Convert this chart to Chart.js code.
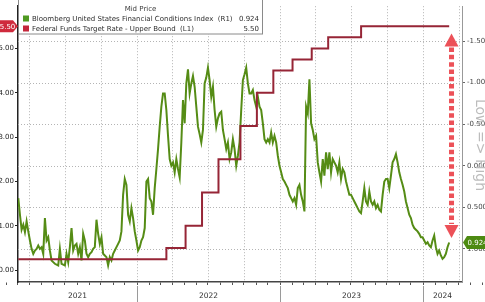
<!DOCTYPE html>
<html>
  <head>
    <script src="https://cdn.jsdelivr.net/npm/chart.js@4.4.0/dist/chart.umd.min.js"></script>
    <style type="text/css">
      html, body { margin: 0; padding: 0; background: #ffffff; }
      .wrap { position: relative; width: 485px; height: 302px; }
    </style>
  </head>

  <body>
    <div class="wrap">
      <canvas id="canvas"></canvas>
    </div>

    <script type="text/javascript">
      // Bloomberg US Financial Conditions Index, roughly every 4 days, Mar 2021 -> Mar 2024
      var fciName = "Bloomberg United States Financial Conditions Index";
      var fciStart = "2021-03-04";
      var fciEnd = "2024-03-08";
      var fciValues = [
        0.39, 0.59, 0.77, 0.71, 0.80, 0.67, 0.79, 0.90, 1.00, 1.06, 1.02, 1.00, 0.96, 1.00, 0.98, 1.06,
        0.63, 0.90, 0.86, 1.02, 1.14, 1.16, 1.18, 1.19, 1.20, 1.00, 1.18, 1.19, 1.20, 1.06, 1.16, 0.98,
        0.75, 1.02, 0.96, 0.94, 1.06, 0.98, 1.14, 0.82, 0.90, 1.06, 1.10, 1.06, 1.04, 1.00, 0.98, 0.65,
        0.82, 0.94, 0.86, 1.06, 1.08, 1.10, 1.20, 1.10, 1.14, 1.06, 1.02, 0.98, 0.94, 0.90, 0.79, 0.35,
        0.16, 0.23, 0.59, 0.67, 0.51, 0.63, 0.79, 0.90, 1.02, 0.98, 0.90, 0.86, 0.75, 0.19, 0.16, 0.39,
        0.43, 0.59, 0.27, 0.04, -0.20, -0.47, -0.71, -0.87, -0.87, -0.67, -0.36, -0.08, 0.00, -0.04, 0.08, -0.08,
        0.04, 0.14, -0.28, -0.79, -0.51, -0.99, -1.16, -0.87, -0.99, -1.08, -0.95, -0.71, -0.47, -0.38, -0.28, -0.43,
        -0.99, -1.06, -1.18, -1.03, -0.83, -0.95, -0.67, -0.47, -0.57, -0.63, -0.65, -0.43, -0.32, -0.20, -0.28, -0.08,
        -0.16, -0.32, -0.20, 0.00, -0.12, -0.28, -0.67, -1.03, -1.10, -1.18, -0.99, -0.87,
        -0.87, -0.91, -0.79, -0.71, -0.83, -0.71, -0.67, -0.51, -0.32, -0.28, -0.32, -0.28, -0.40, -0.28, -0.36, -0.28,
        -0.12, 0.00, 0.08, 0.16, 0.19, 0.23, 0.27, 0.35, 0.39, 0.43, 0.39, 0.47, 0.27, 0.23, 0.35, 0.43, 0.55,
        -0.71, -0.63, -1.04, -0.51, -0.43, -0.32, -0.36, -0.04, 0.08, 0.19, -0.08, 0.12, -0.16, 0.04, -0.16, 0.08,
        -0.08, -0.04, 0.00, 0.08, -0.04, 0.16, 0.04, 0.08, 0.19, 0.27, 0.35, 0.35, 0.39, 0.43, 0.47, 0.51,
        0.55, 0.57, 0.43, 0.27, 0.43, 0.47, 0.31, 0.43, 0.47, 0.43, 0.51, 0.47, 0.53, 0.55, 0.35, 0.19,
        0.16, 0.16, 0.27, 0.12, -0.04, -0.08, -0.14, -0.04, 0.08, 0.16, 0.23, 0.31, 0.43, 0.51, 0.59, 0.63,
        0.71, 0.75, 0.77, 0.79, 0.82, 0.86, 0.86, 0.90, 0.94, 0.92, 0.96, 0.98, 0.90, 0.84, 0.98, 1.06,
        1.02, 1.08, 1.12, 1.10, 1.06, 0.98, 0.924
      ];

      // Fed funds target rate, upper bound: change dates and new levels
      var fedName = "Federal Funds Target Rate - Upper Bound";
      var fedDates = ["2021-03-04", "2022-03-17", "2022-05-05", "2022-06-16", "2022-07-28", "2022-09-22",
                      "2022-11-03", "2022-12-15", "2023-02-02", "2023-03-23", "2023-05-04", "2023-07-27", "2024-03-08"];
      var fedRates = [0.25, 0.50, 1.00, 1.75, 2.50, 3.25, 4.00, 4.50, 4.75, 5.00, 5.25, 5.50, 5.50];

      var leftTicks = [0, 1, 2, 3, 4, 5];
      var rightTicks = [-1.5, -1.0, -0.5, 0, 0.5, 1.0];
      var years = [2021, 2022, 2023, 2024];

      // arrow annotation on the right axis
      var arrowDate = "2024-03-14";
      var arrowTop = -1.59;
      var arrowBottom = 0.87;

      var decYear = function(s) {
        var d = new Date(s + "T00:00:00Z");
        var y = d.getUTCFullYear();
        var a = Date.UTC(y, 0, 1), b = Date.UTC(y + 1, 0, 1);
        return y + (d.getTime() - a) / (b - a);
      };

      var t0 = decYear(fciStart), t1 = decYear(fciEnd);
      var fciPoints = fciValues.map(function(v, i) {
        return { x: t0 + (t1 - t0) * i / (fciValues.length - 1), y: v };
      });
      var fedPoints = fedDates.map(function(d, i) { return { x: decYear(d), y: fedRates[i] }; });

      var monthTicks = [], quarterLines = [];
      years.forEach(function(y) {
        for (var m = 1; m <= 12; m++) {
          var v = decYear(y + "-" + (m < 10 ? "0" : "") + m + "-01");
          monthTicks.push({ value: v });
          if (m % 3 === 1) quarterLines.push(v);
        }
      });

      var FONT = "'DejaVu Sans', Verdana, sans-serif";
      var GREEN = "#558c15", RED = "#962536";

      var decor = {
        id: "decor",
        beforeDatasetsDraw: function(chart) {
          var ctx = chart.ctx, a = chart.chartArea;
          var xs = chart.scales.x, yR = chart.scales.yR;
          ctx.save();
          ctx.strokeStyle = "#b4b4b4";
          ctx.lineWidth = 1;
          ctx.setLineDash([1, 2]);
          quarterLines.forEach(function(v) {
            var px = Math.round(xs.getPixelForValue(v)) + 0.5;
            if (px <= a.left + 2 || px >= a.right - 1) return;
            ctx.beginPath(); ctx.moveTo(px, a.top); ctx.lineTo(px, a.bottom); ctx.stroke();
          });
          rightTicks.forEach(function(v) {
            var py = Math.round(yR.getPixelForValue(v)) + 0.5;
            ctx.beginPath(); ctx.moveTo(a.left, py); ctx.lineTo(a.right, py); ctx.stroke();
          });
          ctx.restore();
        },
        afterDatasetsDraw: function(chart) {
          var ctx = chart.ctx, a = chart.chartArea;
          var xs = chart.scales.x, yR = chart.scales.yR, yL = chart.scales.yL;
          ctx.save();

          // year separators and labels under the axis
          ctx.strokeStyle = "#9a9a9a";
          ctx.lineWidth = 1;
          ctx.fillStyle = "#333";
          ctx.font = "7.5px " + FONT;
          ctx.textAlign = "center";
          ctx.textBaseline = "middle";
          years.forEach(function(y) {
            var l = Math.max(xs.getPixelForValue(y), a.left);
            var r = Math.min(xs.getPixelForValue(y + 1), a.right);
            if (y > years[0]) {
              var px = Math.round(xs.getPixelForValue(y)) + 0.5;
              ctx.beginPath(); ctx.moveTo(px, a.bottom + 4); ctx.lineTo(px, 302); ctx.stroke();
            }
            ctx.fillText(String(y), (l + r) / 2, a.bottom + 14);
          });

          // red dashed double arrow
          var ax = xs.getPixelForValue(decYear(arrowDate));
          var ayT = yR.getPixelForValue(arrowTop), ayB = yR.getPixelForValue(arrowBottom);
          var head = 13, hw = 7;
          ctx.fillStyle = "rgba(234, 66, 74, 0.92)";
          ctx.strokeStyle = "rgba(234, 66, 74, 0.92)";
          ctx.lineWidth = 5;
          ctx.setLineDash([4.5, 2.8]);
          ctx.beginPath(); ctx.moveTo(ax, ayT + head + 1); ctx.lineTo(ax, ayB - head - 1); ctx.stroke();
          ctx.setLineDash([]);
          ctx.beginPath(); ctx.moveTo(ax, ayT); ctx.lineTo(ax + hw, ayT + head); ctx.lineTo(ax - hw, ayT + head); ctx.closePath(); ctx.fill();
          ctx.beginPath(); ctx.moveTo(ax, ayB); ctx.lineTo(ax + hw, ayB - head); ctx.lineTo(ax - hw, ayB - head); ctx.closePath(); ctx.fill();

          // last value tags
          var lastRate = fedRates[fedRates.length - 1];
          var lastFci = fciValues[fciValues.length - 1];
          var ry = yL.getPixelForValue(lastRate);
          ctx.fillStyle = "#cf2a3c";
          ctx.beginPath();
          ctx.moveTo(-4, ry - 6); ctx.lineTo(13, ry - 6); ctx.lineTo(18, ry); ctx.lineTo(13, ry + 6); ctx.lineTo(-4, ry + 6);
          ctx.closePath(); ctx.fill();
          ctx.fillStyle = "#fff";
          ctx.font = "7px " + FONT;
          ctx.textAlign = "center";
          ctx.fillText(lastRate.toFixed(2), 7.5, ry + 0.5);

          var gy = yR.getPixelForValue(lastFci);
          ctx.fillStyle = "#4d8a12";
          ctx.beginPath();
          ctx.moveTo(a.right + 1, gy); ctx.lineTo(a.right + 5, gy - 6.5); ctx.lineTo(490, gy - 6.5); ctx.lineTo(490, gy + 6.5); ctx.lineTo(a.right + 5, gy + 6.5);
          ctx.closePath(); ctx.fill();
          ctx.fillStyle = "#fff";
          ctx.textAlign = "left";
          ctx.fillText(lastFci.toFixed(3), a.right + 5.5, gy + 0.5);

          // rotated side caption, cut by the right edge
          ctx.save();
          ctx.translate(476, 145);
          ctx.rotate(Math.PI / 2);
          ctx.fillStyle = "#bcbcbc";
          ctx.font = "14px " + FONT;
          ctx.textAlign = "center";
          ctx.textBaseline = "alphabetic";
          ctx.fillText("Low => High", 0, 0);
          ctx.restore();

          // legend box
          var bx = a.left + 0.5, bw = 244, bh = 34;
          ctx.fillStyle = "#fff";
          ctx.fillRect(bx, 0, bw, bh);
          ctx.strokeStyle = "#8a8a8a";
          ctx.lineWidth = 1;
          ctx.strokeRect(bx, -0.5, bw, bh + 0.5);
          ctx.font = "7px " + FONT;
          ctx.fillStyle = "#3a3a3a";
          ctx.textAlign = "center";
          ctx.textBaseline = "middle";
          ctx.fillText("Mid Price", bx + bw / 2, 9);
          var rows = [
            { color: "#4f9a22", text: fciName + "  (R1)", value: lastFci.toFixed(3), y: 19 },
            { color: "#c4263b", text: fedName + "  (L1)", value: lastRate.toFixed(2), y: 29 }
          ];
          rows.forEach(function(r) {
            ctx.fillStyle = r.color;
            ctx.fillRect(bx + 4.5, r.y - 3.5, 6, 6);
            ctx.fillStyle = "#2e2e2e";
            ctx.textAlign = "left";
            ctx.fillText(r.text, bx + 13.5, r.y);
            ctx.textAlign = "right";
            ctx.fillText(r.value, bx + bw - 3.5, r.y);
          });
          ctx.restore();
        }
      };

      var tickFont = { family: FONT, size: 7 };

      new Chart(document.getElementById("canvas"), {
        type: "line",
        data: {
          datasets: [
            {
              label: fedName,
              data: fedPoints,
              yAxisID: "yL",
              stepped: true,
              borderColor: RED,
              borderWidth: 2,
              pointRadius: 0,
              fill: false
            },
            {
              label: fciName,
              data: fciPoints,
              yAxisID: "yR",
              borderColor: GREEN,
              borderWidth: 2,
              pointRadius: 0,
              tension: 0,
              fill: false
            }
          ]
        },
        options: {
          responsive: true,
          maintainAspectRatio: false,
          animation: false,
          layout: { padding: { top: 1, left: 0, right: 0, bottom: 0 } },
          plugins: { legend: { display: false }, tooltip: { enabled: false } },
          scales: {
            x: {
              type: "linear",
              min: 2022 - 119 / 143,
              max: 2022 + 325 / 143,
              afterBuildTicks: function(s) { s.ticks = monthTicks.slice(); },
              afterFit: function(s) { s.height = 20; },
              ticks: { display: false },
              grid: { drawOnChartArea: false, drawTicks: true, tickLength: 3, color: "#555" },
              border: { color: "#444", width: 1.5 }
            },
            yL: {
              position: "left",
              min: -0.265,
              max: 5.951,
              afterBuildTicks: function(s) { s.ticks = leftTicks.map(function(v) { return { value: v }; }); },
              afterFit: function(s) { s.width = 18; },
              ticks: { font: tickFont, color: "#222", padding: 1, callback: function(v) { return Number(v).toFixed(2); } },
              grid: { drawOnChartArea: false, drawTicks: true, tickLength: 3, color: "#222" },
              border: { color: "#222", width: 1.5 }
            },
            yR: {
              position: "right",
              reverse: true,
              min: -1.919,
              max: 1.399,
              afterBuildTicks: function(s) { s.ticks = rightTicks.map(function(v) { return { value: v }; }); },
              afterFit: function(s) { s.width = 23; },
              ticks: { font: tickFont, color: "#444", padding: 2, callback: function(v) { return v < 0 ? Number(v).toFixed(2) : Number(v).toFixed(3); } },
              grid: { drawOnChartArea: false, drawTicks: true, tickLength: 3, color: "#666" },
              border: { color: "#999", width: 1 }
            }
          }
        },
        plugins: [decor]
      });
    </script>
  </body>
</html>
